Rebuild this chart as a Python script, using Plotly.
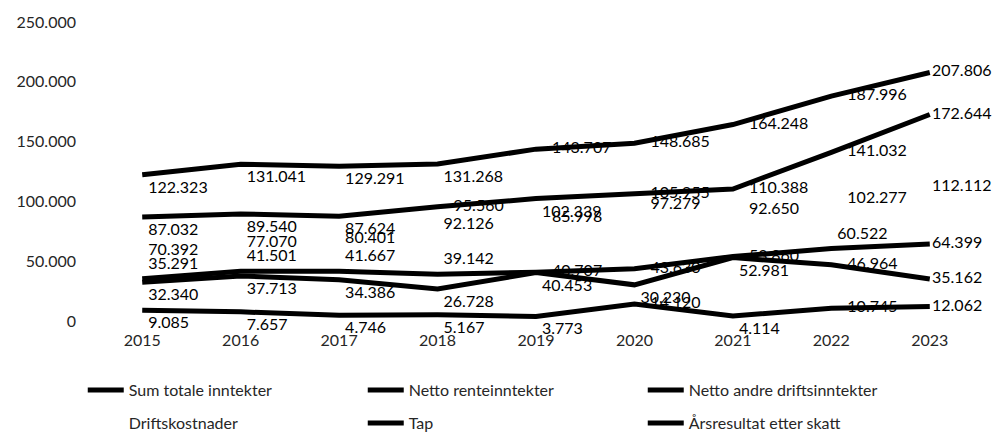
import plotly.graph_objects as go

years = ["2015", "2016", "2017", "2018", "2019", "2020", "2021", "2022", "2023"]

sum_totale = [122323, 131041, 129291, 131268, 143707, 148685, 164248, 187996, 207806]
netto_rente = [87032, 89540, 87624, 95560, 102339, 105955, 110388, 141032, 172644]
netto_andre = [35291, 41501, 41667, 39142, 40707, 43630, 53860, 60522, 64399]
driftskostnader = [70392, 77070, 80401, 92126, 85998, 97279, 92650, 102277, 112112]
tap = [9085, 7657, 4746, 5167, 3773, 14120, 4114, 10745, 12062]
arsresultat = [32340, 37713, 34386, 26728, 40453, 30230, 52981, 46964, 35162]

BR, MR, TR = "bottom right", "middle right", "top right"

series = [
    ("Sum totale inntekter", sum_totale, [BR] * 4 + [MR] * 5, "legend"),
    ("Netto renteinntekter", netto_rente, [BR, BR, BR, MR, BR, MR, MR, MR, MR], "legend"),
    ("Netto andre driftsinntekter", netto_andre, [TR] * 4 + [MR] * 3 + [TR, MR], "legend"),
    ("Driftskostnader", driftskostnader, [BR] * 4 + [MR] * 5, "legend2"),
    ("Tap", tap, [BR] * 5 + [MR, BR, MR, MR], "legend2"),
    ("Årsresultat etter skatt", arsresultat, [BR] * 7 + [MR, MR], "legend2"),
]

FONT = "Lato"

fig = go.Figure()
for name, vals, pos, leg in series:
    lc = "rgba(0,0,0,0)" if name == "Driftskostnader" else "black"
    # invisible markers set how far each label sits from its point
    msize = [24 if p == MR else 8 for p in pos[:-1]] + [2]
    fig.add_trace(go.Scatter(
        x=years, y=vals, name=name, mode="lines+markers+text",
        line=dict(color=lc, width=5),
        marker=dict(size=msize, color="rgba(0,0,0,0)", line=dict(width=0)),
        texttemplate="%{y:,d}", textposition=pos,
        textfont=dict(family=FONT, size=16, color="black"),
        cliponaxis=False, legend=leg,
    ))

leg_style = dict(orientation="h", xref="container", yref="container",
                 x=0.083, yanchor="middle", itemwidth=36,
                 entrywidth=229, entrywidthmode="pixels",
                 font=dict(family=FONT, size=16, color="#262626"))

fig.update_layout(
    width=997, height=437,
    margin=dict(l=93, r=18, t=22, b=116),
    paper_bgcolor="white", plot_bgcolor="white",
    separators=",.",
    font=dict(family=FONT, size=16, color="#262626"),
    showlegend=True,
    xaxis=dict(type="category", range=[-0.5, 8.5], showgrid=False, showline=False,
               zeroline=False, ticks="", ticklabelstandoff=8, tickfont=dict(size=16)),
    yaxis=dict(range=[0, 250000], dtick=50000, tickformat=",d", showgrid=False,
               showline=False, zeroline=False, ticks="", ticklabelstandoff=16,
               tickfont=dict(size=16)),
    legend=dict(leg_style, y=1 - 390 / 437),
    legend2=dict(leg_style, y=1 - 423 / 437),
)

fig.write_html("out.html", config={"displayModeBar": False},
               post_script="document.body.style.margin='0';")
